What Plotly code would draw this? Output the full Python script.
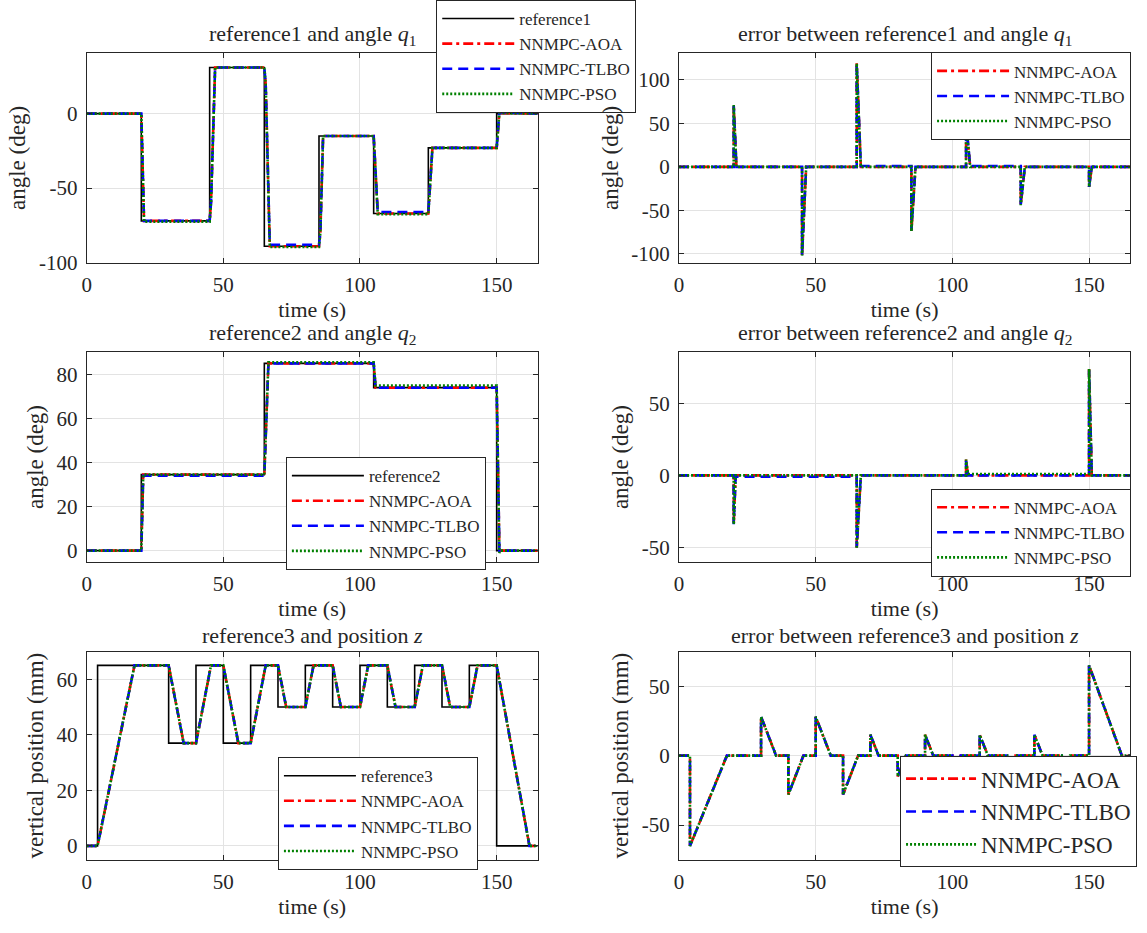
import plotly.graph_objects as go

# ---------------- data ----------------
# reference 1 / angle q1
ref1_t = [0, 20, 20, 45, 45, 65, 65, 85, 85, 105, 105, 125, 125, 150, 150, 165]
ref1_v = [0, 0, -72, -72, 31, 31, -89, -89, -15, -15, -67, -67, -23, -23, 0, 0]
q1_t = [0, 20, 21, 45, 45.5, 47, 65, 65.5, 67, 85, 85.5, 86.5, 105, 106.5, 125, 126.5, 150, 151, 165]
q1_aoa = [0, 0, -72, -72, -60, 31, 31, 20, -89, -89, -80, -15, -15, -67, -67, -23, -23, 0.5, 0]
q1_tlbo = [0, 0, -72, -72, -60, 31, 31, 20, -88, -88, -80, -15, -15, -66, -66, -23, -23, 1, 0]
q1_pso = [0, 0, -72.5, -72.5, -60, 31, 31, 20, -89.5, -89.5, -80, -15, -15, -67.5, -67.5, -23, -23, 0.5, 0]

e1_t = [0, 20, 20, 21, 45, 45, 46.5, 65, 65, 66.5, 85, 85, 86.5, 105, 105, 106.5, 125, 125, 126.5, 150, 150, 151, 165]
e1_aoa = [0, 0, 71, 0, 0, -102, 0, 0, 119, 0, 0, -74, 0, 0, 52, 0, 0, -44, 0, 0, -23, 0, 0]
e1_tlbo = [0, 0, 70, 0, 0, -101, 0, 0, 118, 1, 1, -73, 0, 0, 51, 1, 1, -43, 0, 0, -23, 0, 0]
e1_pso = [0, 0, 71, 0, 0, -102, 0, 0, 119, 0, 0, -74, 0, 0, 52, 0, 0, -44, 0, 0, -23, 0, 0]

# reference 2 / angle q2
ref2_t = [0, 20, 20, 65, 65, 105, 105, 150, 150, 165]
ref2_v = [0, 0, 34.5, 34.5, 85, 85, 74, 74, 0, 0]
q2_t = [0, 20, 20.7, 65, 66.5, 105, 105.7, 150, 151, 151.5, 165]
q2_aoa = [0, 0, 34.5, 34.5, 85, 85, 74, 74, 0, 0, 0]
q2_tlbo = [0, 0, 34, 34, 85, 85, 74, 74, 0, 0, 0]
q2_pso = [0, 0, 34.5, 34.5, 85.5, 85.5, 75, 75, -1, 0, 0]

e2_t = [0, 20, 20, 20.7, 65, 65, 66.5, 105, 105, 105.7, 150, 150, 151, 165]
e2_aoa = [0, 0, -34, 0, 0, -51, 0, 0, 11, 0, 0, 74, 0, 0]
e2_tlbo = [0, 0, -34, -1, -1, -50, 0, 0, 10, 0, 0, 73, 0, 0]
e2_pso = [0, 0, -34, 0, 0, -51, 0, 0, 11, 1, 1, 74, 0, 0]

# reference 3 / vertical position z
ref3_t = [0, 4, 4, 30, 30, 40, 40, 50, 50, 60, 60, 70, 70, 80, 80, 90, 90, 100, 100,
          110, 110, 120, 120, 130, 130, 140, 140, 150, 150, 165]
ref3_v = [0, 0, 65, 65, 37, 37, 65, 65, 37, 37, 65, 65, 50, 50, 65, 65, 50, 50, 65,
          65, 50, 50, 65, 65, 50, 50, 65, 65, 0, 0]
z_t = [0, 4, 17.5, 30, 35.5, 40, 45.5, 50, 55.5, 60, 65.5, 70, 73, 80, 83, 90, 93, 100,
       103, 110, 113, 120, 123, 130, 133, 140, 143, 150, 162, 165]
z_aoa = [0, 0, 65, 65, 37, 37, 65, 65, 37, 37, 65, 65, 50, 50, 65, 65, 50, 50,
         65, 65, 50, 50, 65, 65, 50, 50, 65, 65, 0, 0]
z_tlbo = [0, 0, 65, 65, 37, 37, 65, 65, 37, 37, 65, 65, 50, 50, 65, 65, 50, 50,
          65, 65, 50, 50, 65, 65, 50, 50, 65, 65, 0, 0]
z_pso = [0, 0, 65, 65, 37, 37, 65, 65, 37, 37, 65, 65, 50, 50, 65, 65, 50, 50,
         65, 65, 50, 50, 65, 65, 50, 50, 65, 65, 0, 0]

e3_t = [0, 4, 4, 17.5, 30, 30, 35.5, 40, 40, 45.5, 50, 50, 55.5, 60, 60, 65.5, 70, 70, 73,
        80, 80, 83, 90, 90, 93, 100, 100, 103, 110, 110, 113, 120, 120, 123, 130, 130, 133,
        140, 140, 143, 150, 150, 162, 165]
e3_aoa = [0, 0, -65, 0, 0, 28, 0, 0, -28, 0, 0, 28, 0, 0, -28, 0, 0, 15, 0,
          0, -15, 0, 0, 15, 0, 0, -15, 0, 0, 15, 0, 0, -15, 0, 0, 15, 0,
          0, -15, 0, 0, 65, 0, 0]
e3_tlbo = list(e3_aoa)
e3_pso = list(e3_aoa)

method_names = ["NNMPC-AOA", "NNMPC-TLBO", "NNMPC-PSO"]
ref_names = ["reference1", "reference2", "reference3"]
titles = ["reference1 and angle <i>q</i><sub>1</sub>",
          "error between reference1 and angle <i>q</i><sub>1</sub>",
          "reference2 and angle <i>q</i><sub>2</sub>",
          "error between reference2 and angle <i>q</i><sub>2</sub>",
          "reference3 and position <i>z</i>",
          "error between reference3 and position <i>z</i>"]
y_labels = ["angle (deg)", "angle (deg)", "angle (deg)", "angle (deg)",
            "vertical position (mm)", "vertical position (mm)"]
x_ticks = [0, 50, 100, 150]
x_ticktext = ["0", "50", "100", "150"]
y_ticks = [[-100, -50, 0], [-100, -50, 0, 50, 100], [0, 20, 40, 60, 80],
           [-50, 0, 50], [0, 20, 40, 60], [-50, 0, 50]]
y_ticktext = [["-100", "-50", "0"], ["-100", "-50", "0", "50", "100"],
              ["0", "20", "40", "60", "80"], ["-50", "0", "50"],
              ["0", "20", "40", "60"], ["-50", "0", "50"]]
y_ranges = [[-100, 40.5], [-110, 130.5], [-5, 90], [-60, 85.5], [-5, 70], [-75, 75]]

# ---------------- styling ----------------
FONT = "Liberation Serif, Times New Roman, serif"
TXT = "#262626"
colors = ["#ff0000", "#0000ff", "#008000"]
dashes = ["10px,4px,3px,4px", "10px,6px", "2px,2px"]
W, H = 1147, 933
# plot-area pixel boxes (left, right, top, bottom)
cols = [(82, 535), (677, 1130)]
rows = [(54, 266), (357, 569), (660, 871)]

fig = go.Figure()

panels = [
    (ref1_t, ref1_v, q1_t, [q1_aoa, q1_tlbo, q1_pso], 0),
    (None, None, e1_t, [e1_aoa, e1_tlbo, e1_pso], None),
    (ref2_t, ref2_v, q2_t, [q2_aoa, q2_tlbo, q2_pso], 1),
    (None, None, e2_t, [e2_aoa, e2_tlbo, e2_pso], None),
    (ref3_t, ref3_v, z_t, [z_aoa, z_tlbo, z_pso], 2),
    (None, None, e3_t, [e3_aoa, e3_tlbo, e3_pso], None),
]

# legend boxes: (right px, top px, font size, item width)
legend_pos = [(634, 0, 17, 72), (1131, 53, 17, 72), (483, 463, 17, 72),
              (1131, 495, 17, 72), (475, 767, 17, 72), (1137, 766, 23, 70)]

layout = dict(width=W, height=H, margin=dict(l=0, r=0, t=0, b=0),
              paper_bgcolor="white", plot_bgcolor="white",
              font=dict(family=FONT, color=TXT, size=21), showlegend=True)
annotations = []

for i, (rt, rv, mt, mvs, ridx) in enumerate(panels):
    r, c = divmod(i, 2)
    k = i + 1
    xa = "x" if k == 1 else f"x{k}"
    ya = "y" if k == 1 else f"y{k}"
    lg = "legend" if k == 1 else f"legend{k}"
    if rt is not None:
        fig.add_trace(go.Scatter(x=rt, y=rv, mode="lines", name=ref_names[ridx],
                                 line=dict(color="black", width=1.6),
                                 xaxis=xa, yaxis=ya, legend=lg))
    for j, mv in enumerate(mvs):
        fig.add_trace(go.Scatter(x=mt, y=mv, mode="lines", name=method_names[j],
                                 line=dict(color=colors[j], width=2.6, dash=dashes[j]),
                                 xaxis=xa, yaxis=ya, legend=lg))
    l, rr = cols[c]
    t, b = rows[r]
    axis_common = dict(showline=True, linecolor=TXT, linewidth=1, mirror="ticks",
                       ticks="inside", ticklen=5, tickcolor=TXT,
                       showgrid=True, gridcolor="#e3e3e3", gridwidth=1,
                       zeroline=False, tickfont=dict(family=FONT, size=21, color=TXT))
    layout["xaxis" if k == 1 else f"xaxis{k}"] = dict(
        axis_common, domain=[l / W, rr / W], range=[0, 165], tickvals=x_ticks,
        ticktext=x_ticktext, anchor=ya, ticklabelstandoff=3,
        title=dict(text="time (s)", font=dict(family=FONT, size=22, color=TXT), standoff=2))
    layout["yaxis" if k == 1 else f"yaxis{k}"] = dict(
        axis_common, domain=[1 - b / H, 1 - t / H], range=y_ranges[i], tickvals=y_ticks[i],
        ticktext=y_ticktext[i], anchor=xa, ticklabelstandoff=4,
        title=dict(text=y_labels[i], font=dict(family=FONT, size=23, color=TXT), standoff=6))
    annotations.append(dict(text=titles[i], x=(l + rr) / 2 / W, y=1 - (t - 2) / H,
                            xref="paper", yref="paper", xanchor="center", yanchor="bottom",
                            showarrow=False, font=dict(family=FONT, size=22, color=TXT)))
    px_r, px_t, fs, iw = legend_pos[i]
    layout[lg] = dict(x=px_r / W, y=1 - px_t / H, xanchor="right", yanchor="top",
                      xref="paper", yref="paper", bgcolor="white", bordercolor=TXT,
                      borderwidth=1, itemwidth=iw,
                      font=dict(family=FONT, size=fs, color=TXT), tracegroupgap=0)

layout["annotations"] = annotations
fig.update_layout(**layout)
fig.write_html("out.html")
